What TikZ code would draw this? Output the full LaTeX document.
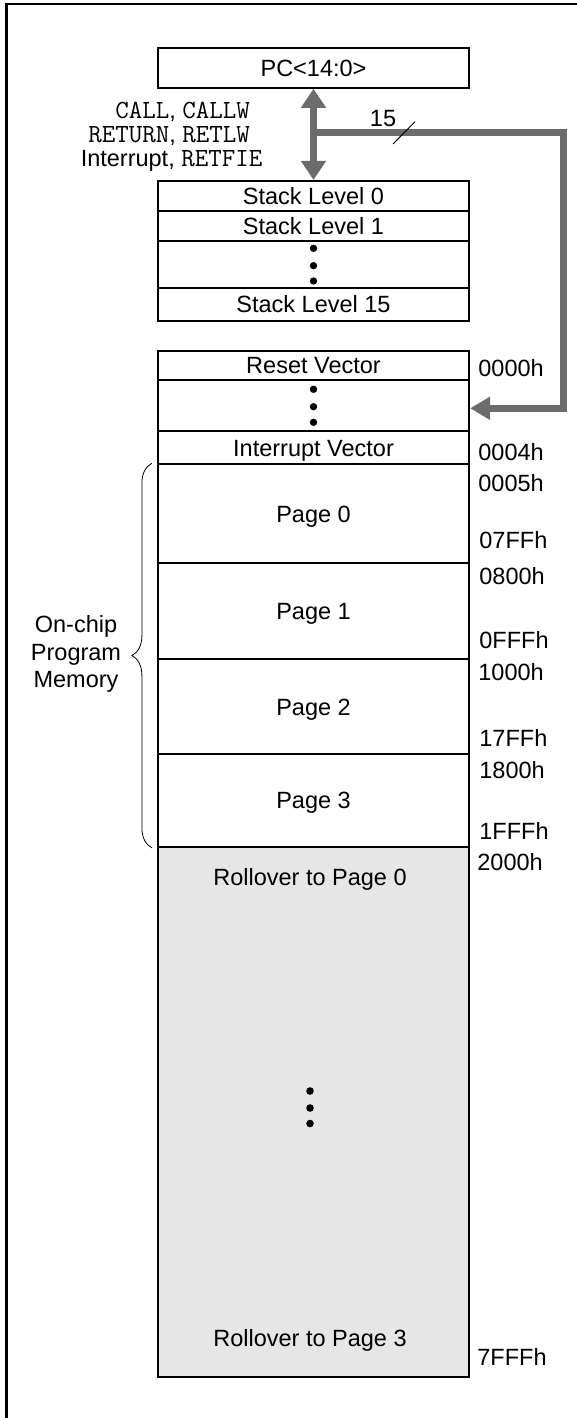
\documentclass[tikz,border=0pt]{standalone}
\usepackage{fontspec}
\setmainfont{Liberation Sans}
\usetikzlibrary{arrows.meta,decorations.pathreplacing}
\definecolor{busgray}{RGB}{108,108,108}
\definecolor{rollgray}{RGB}{230,230,230}
\newcommand{\instr}[1]{{\fontsize{13.1}{14}\ttfamily #1}}
\tikzset{
  lbl/.style={inner sep=0pt,text height=8.4pt,text depth=0pt,font=\fontsize{11.75}{13.75}\selectfont},
  cell/.style={lbl,rectangle,draw,line width=1.1pt,minimum width=155.5pt},
  addr/.style={lbl,anchor=west},
  bus/.style={draw=busgray,line width=3.6pt,line join=miter},
  dot/.style={fill=black},
  every picture/.style={line cap=butt}
}

\begin{document}
\begin{tikzpicture}[x=0.5pt,y=-0.5pt]
    \useasboundingbox (0,0) rectangle (577,1418);
    % frame of the figure
    \draw[line width=1.4pt] (6.8,1500) -- (6.8,4) -- (650,4);

    % PC and stack
    \node[cell,minimum height=20pt] (pc) at (313.5,67.7) {PC<14:0>};
    \node[cell,minimum height=14.85pt] (sl0) at (313.5,195.9) {Stack Level 0};
    \node[cell,minimum height=15pt] (sl1) at (313.5,225.7) {Stack Level 1};
    \node[cell,minimum height=23.5pt] (sdots) at (313.5,264.2) {};
    \node[cell,minimum height=16.65pt] (sl15) at (313.5,304.3) {Stack Level 15};
    \foreach \y in {248.3,265.7,281} \fill[dot] (313.5,\y) circle[radius=1.85pt];

    % vectors and pages
    \node[cell,minimum height=14.5pt] (rst) at (313.5,365.5) {Reset Vector};
    \node[cell,minimum height=25.5pt] (vdots) at (313.5,405.5) {};
    \node[cell,minimum height=16.65pt] (intv) at (313.5,447.7) {Interrupt Vector};
    \foreach \y in {389.3,406.7,422.3} \fill[dot] (313.5,\y) circle[radius=1.85pt];
    \node[cell,minimum height=49.35pt] (p0) at (313.5,513.7) {Page 0};
    \node[cell,minimum height=48.15pt] (p1) at (313.5,611.2) {Page 1};
    \node[cell,minimum height=47.5pt] (p2) at (313.5,706.8) {Page 2};
    \node[cell,minimum height=46.2pt] (p3) at (313.5,800.5) {Page 3};
    \node[cell,fill=rollgray,minimum height=265.15pt] (roll) at (313.5,1111.9) {};
    \node[lbl] (r0) at (310,877) {Rollover to Page 0};
    \node[lbl] (r3) at (310,1338) {Rollover to Page 3};
    \foreach \y in {1091,1108,1123.5} \fill[dot] (310,\y) circle[radius=1.9pt];

    % addresses
    \node[addr] (a0) at (478,368) {0000h};
    \node[addr] (a4) at (478,452) {0004h};
    \node[addr] (a5) at (478,483.3) {0005h};
    \node[addr] (a7ff) at (479,540) {07FFh};
    \node[addr] (a800) at (479,576) {0800h};
    \node[addr] (afff) at (479,640) {0FFFh};
    \node[addr] (a1000) at (478,671.7) {1000h};
    \node[addr] (a17ff) at (479,737.7) {17FFh};
    \node[addr] (a1800) at (479,770) {1800h};
    \node[addr] (a1fff) at (479,831) {1FFFh};
    \node[addr] (a2000) at (477,862) {2000h};
    \node[addr] (a7fff) at (477,1357) {7FFFh};

    % instructions moving the PC
    \node[lbl,anchor=east] (call) at (250.2,110) {\instr{CALL}, \instr{CALLW}};
    \node[lbl,anchor=east] (ret) at (250.2,134) {\instr{RETURN}, \instr{RETLW}};
    \node[lbl,anchor=east] (irq) at (262.7,158) {Interrupt, \instr{RETFIE}};

    % buses
    \draw[bus,{Triangle[length=9.5pt,width=12pt]}-{Triangle[length=9.5pt,width=12pt]}] (pc.south) -- (sl0.north);
    \coordinate (tap) at (313.5,132.7);
    \coordinate (c1) at (563.5,132.7);
    \coordinate (c2) at (563.5,408.3);
    \draw[bus,-{Triangle[length=10pt,width=11pt]}] (tap) -- (c1) -- (c2) -- (c2 -| vdots.east);
    \draw[line width=0.5pt] (393,144) -- (415,121.7);
    \node[lbl] (w15) at (383,118) {15};

    % on-chip memory brace
    \draw[line width=0.4pt,decorate,decoration={brace,amplitude=10pt}]
      ([xshift=-2.5pt]p3.south west) -- ([xshift=-2.5pt]p0.north west);
    \node[inner sep=0pt,align=center,font=\fontsize{11.75}{13.75}\selectfont] (mem) at (76,654) {On-chip\\Program\\Memory};
\end{tikzpicture}
\end{document}
